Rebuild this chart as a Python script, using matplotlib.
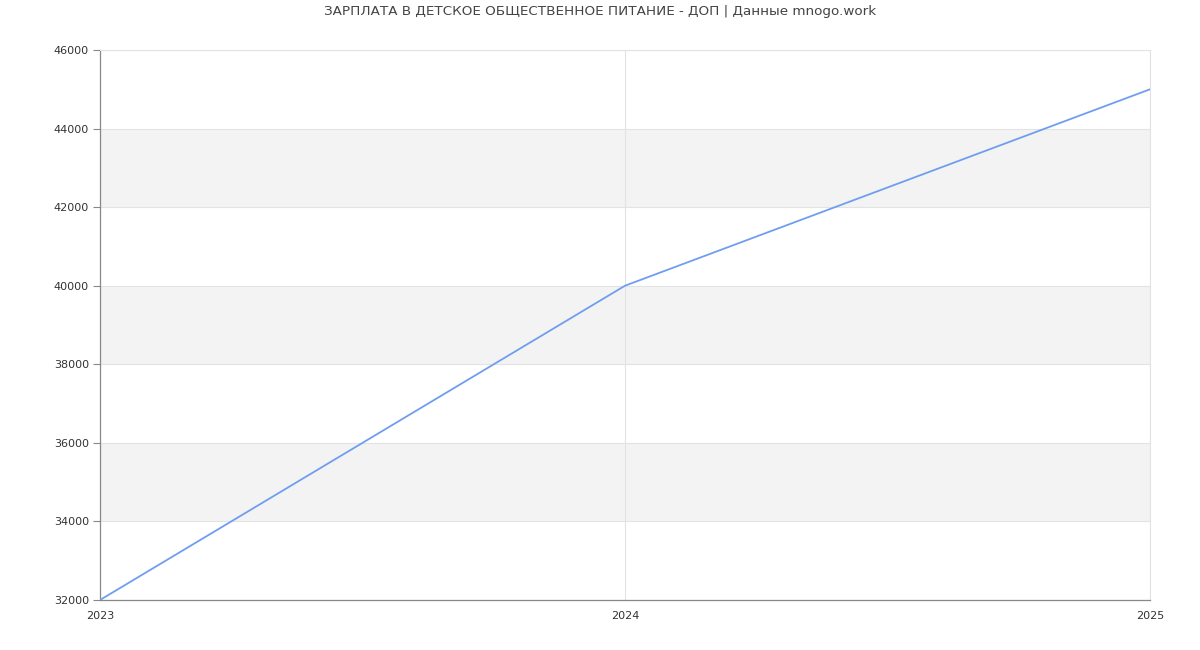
import matplotlib
matplotlib.use('Agg')
import matplotlib.pyplot as plt

### Data
years = [2023, 2024, 2025]
salary = [32000, 40000, 45000]
y_ticks = [32000, 34000, 36000, 38000, 40000, 42000, 44000, 46000]
title = 'ЗАРПЛАТА В ДЕТСКОЕ ОБЩЕСТВЕННОЕ ПИТАНИЕ - ДОП | Данные mnogo.work'

fig = plt.figure(figsize=(12, 6.5), dpi=100)
ax = fig.add_axes([100/1200, 1 - 600/650, 1050/1200, 550/650])

### Alternating bands
for i in range(1, len(y_ticks) - 1, 2):
    ax.axhspan(y_ticks[i], y_ticks[i + 1], color='#f3f3f3', zorder=0, lw=0)

ax.plot(years, salary, color='#6f9ef0', lw=1.3, zorder=3)

ax.set_xlim(years[0], years[-1])
ax.set_ylim(y_ticks[0], y_ticks[-1])
ax.set_xticks(years)
ax.set_xticklabels([str(y) for y in years])
ax.set_yticks(y_ticks)
ax.grid(True, color='#e3e3e3', lw=0.8, zorder=1)
ax.set_axisbelow(True)

for s in ['top', 'right']:
    ax.spines[s].set_color('#e3e3e3')
    ax.spines[s].set_linewidth(0.8)
for s in ['left', 'bottom']:
    ax.spines[s].set_color('#888888')
    ax.spines[s].set_linewidth(0.9)

ax.tick_params(axis='y', length=5, color='#888888', labelsize=8, labelcolor='#333333', pad=3)
ax.tick_params(axis='x', length=0, labelsize=8, labelcolor='#333333', pad=8)
for lbl in ax.get_xticklabels():
    lbl.set_x(lbl.get_position()[0])

fig.text(0.5, 1 - 12/650, title, ha='center', va='center', fontsize=9.7, color='#444444')

fig.savefig('out.png', dpi=100)
